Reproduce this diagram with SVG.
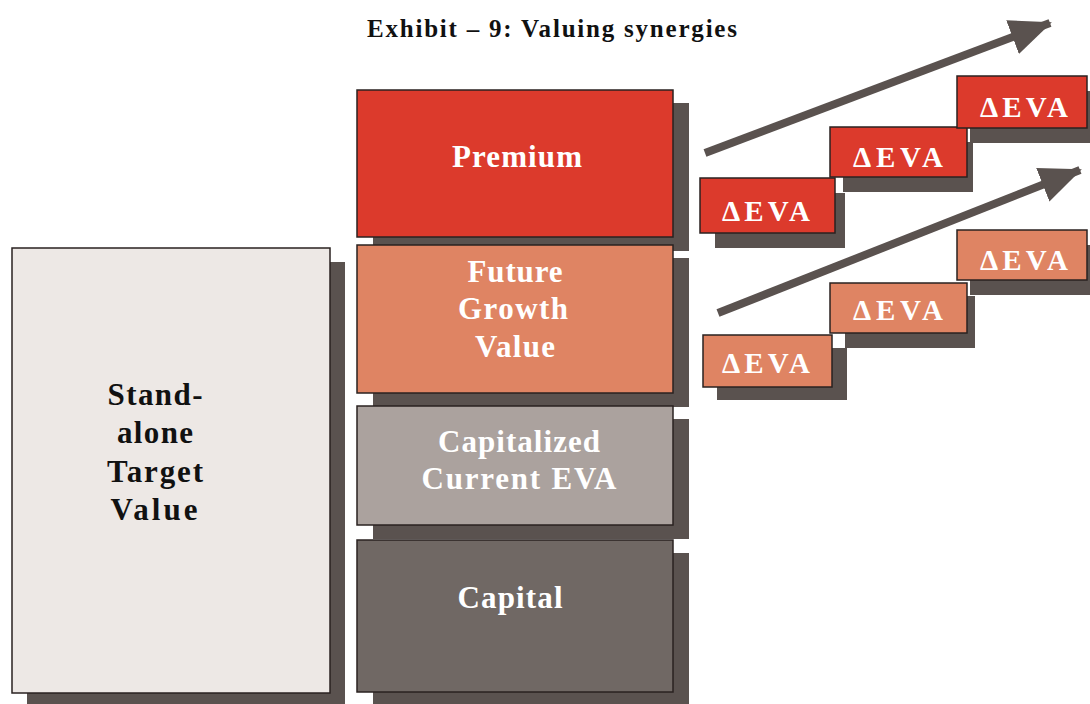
<svg xmlns="http://www.w3.org/2000/svg" width="1090" height="704" viewBox="0 0 1090 704">
<style>
.sh{fill:#5a524f}
.bx{stroke:#2a2220;stroke-width:1.5}
.t{font-family:"Liberation Serif","Times New Roman",serif;font-weight:bold;text-anchor:middle}
.w{fill:#ffffff}
.k{fill:#111111}
.m{font-size:31px}
.e{font-size:29px}
.arr{stroke:#5a524f;stroke-width:8;fill:none}
</style>
<defs>
<marker id="ah" markerUnits="userSpaceOnUse" markerWidth="44" markerHeight="40" refX="40" refY="20" orient="auto" viewBox="0 0 44 40">
<polygon points="0,2 42,20 0,38" fill="#5a524f"/>
</marker>
</defs>
<rect width="1090" height="704" fill="#ffffff"/>
<text class="t k" x="552" y="37" font-size="25" textLength="370" lengthAdjust="spacing">Exhibit – 9: Valuing synergies</text>

<g id="standalone">
<rect class="sh" x="27" y="262" width="318" height="446"/>
<rect class="bx" x="12" y="248" width="318" height="445" fill="#ede8e5"/>
<text class="t k m" x="155" y="405" textLength="95" lengthAdjust="spacing">Stand-</text>
<text class="t k m" x="155" y="443" textLength="76" lengthAdjust="spacing">alone</text>
<text class="t k m" x="155" y="482" textLength="96" lengthAdjust="spacing">Target</text>
<text class="t k m" x="154" y="520" textLength="87" lengthAdjust="spacing">Value</text>
</g>

<g id="premium">
<rect class="sh" x="373" y="103" width="316" height="148"/>
<rect class="bx" x="357" y="90" width="316" height="147" fill="#dc3a2c"/>
<text class="t w m" x="517" y="167" textLength="130" lengthAdjust="spacing">Premium</text>
</g>

<g id="future">
<rect class="sh" x="373" y="258" width="316" height="149"/>
<rect class="bx" x="357" y="245" width="316" height="148" fill="#df8463"/>
<text class="t w m" x="515" y="282" textLength="95" lengthAdjust="spacing">Future</text>
<text class="t w m" x="513" y="319" textLength="110" lengthAdjust="spacing">Growth</text>
<text class="t w m" x="515" y="357" textLength="80" lengthAdjust="spacing">Value</text>
</g>

<g id="capitalized">
<rect class="sh" x="373" y="419" width="316" height="120"/>
<rect class="bx" x="357" y="406" width="316" height="119" fill="#aba29e"/>
<text class="t w m" x="519" y="452" textLength="162" lengthAdjust="spacing">Capitalized</text>
<text class="t w m" x="519" y="489" textLength="195" lengthAdjust="spacing">Current EVA</text>
</g>

<g id="capital">
<rect class="sh" x="373" y="553" width="316" height="155"/>
<rect class="bx" x="357" y="540" width="316" height="152" fill="#706864"/>
<text class="t w m" x="510" y="608" textLength="105" lengthAdjust="spacing">Capital</text>
</g>

<g id="connectors">
<line class="arr" x1="705" y1="153" x2="1050" y2="23" marker-end="url(#ah)"/>
<line class="arr" x1="718" y1="313" x2="1080" y2="170" marker-end="url(#ah)"/>
</g>

<g id="eva-r1">
<rect class="sh" x="715" y="193" width="130" height="55"/>
<rect class="bx" x="700" y="178" width="135" height="55" fill="#dc3a2c" stroke="#c06010"/>
<text class="t w e" x="766" y="221" textLength="88" lengthAdjust="spacing">ΔEVA</text>
</g>
<g id="eva-r2">
<rect class="sh" x="843" y="142" width="130" height="50"/>
<rect class="bx" x="830" y="127" width="137" height="50" fill="#dc3a2c"/>
<text class="t w e" x="898" y="167" textLength="90" lengthAdjust="spacing">ΔEVA</text>
</g>
<g id="eva-r3">
<rect class="sh" x="970" y="91" width="125" height="52"/>
<rect class="bx" x="957" y="76" width="130" height="52" fill="#dc3a2c"/>
<text class="t w e" x="1024" y="117" textLength="88" lengthAdjust="spacing">ΔEVA</text>
</g>

<g id="eva-o1">
<rect class="sh" x="717" y="348" width="130" height="52"/>
<rect class="bx" x="703" y="335" width="129" height="52" fill="#df8463"/>
<text class="t w e" x="766" y="373" textLength="88" lengthAdjust="spacing">ΔEVA</text>
</g>
<g id="eva-o2">
<rect class="sh" x="845" y="296" width="130" height="52"/>
<rect class="bx" x="830" y="283" width="137" height="50" fill="#df8463"/>
<text class="t w e" x="898" y="320" textLength="90" lengthAdjust="spacing">ΔEVA</text>
</g>
<g id="eva-o3">
<rect class="sh" x="970" y="245" width="125" height="50"/>
<rect class="bx" x="957" y="230" width="130" height="50" fill="#df8463"/>
<text class="t w e" x="1024" y="270" textLength="88" lengthAdjust="spacing">ΔEVA</text>
</g>
</svg>
